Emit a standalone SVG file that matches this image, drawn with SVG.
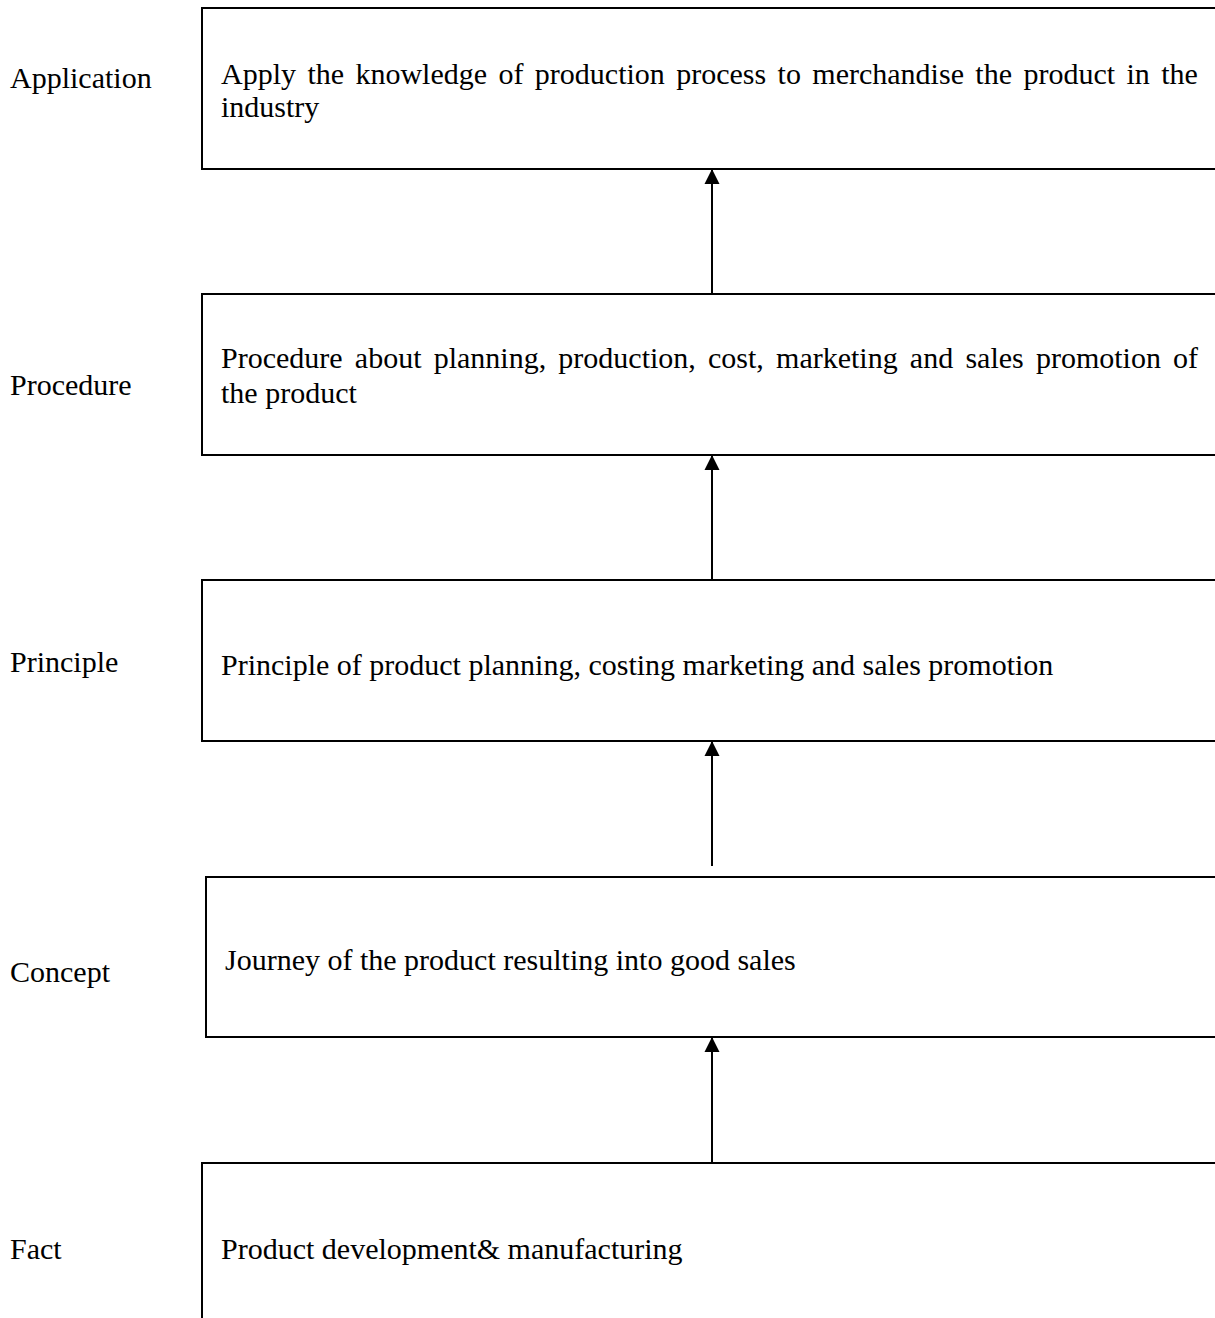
<svg xmlns="http://www.w3.org/2000/svg" width="1215" height="1318" viewBox="0 0 1215 1318">
  <style>
    text { font-family: "Liberation Serif", "Times New Roman", serif; font-size: 30px; fill: #000; }
    .box { fill: #fff; stroke: #000; stroke-width: 2; }
    .link { stroke: #000; stroke-width: 2; fill: none; marker-end: url(#head); }
  </style>
  <defs>
    <marker id="head" markerUnits="userSpaceOnUse" markerWidth="16" markerHeight="16" viewBox="0 0 16 16" refX="15" refY="8" orient="auto">
      <path d="M0,0.5 L15,8 L0,15.5 Z" fill="#000"/>
    </marker>
  </defs>
  <rect width="1215" height="1318" fill="#fff"/>

  <!-- level labels -->
  <g id="labels">
    <text x="10" y="88">Application</text>
    <text x="10" y="395">Procedure</text>
    <text x="10" y="672">Principle</text>
    <text x="10" y="982">Concept</text>
    <text x="10" y="1259">Fact</text>
  </g>

  <!-- levels, bottom to top -->
  <g id="application">
    <rect class="box" x="202" y="8" width="1030" height="161"/>
    <text x="221" y="84" word-spacing="3.9">Apply the knowledge of production process to merchandise the product in the</text>
    <text x="221" y="117">industry</text>
  </g>
  <g id="procedure">
    <rect class="box" x="202" y="294" width="1030" height="161"/>
    <text x="221" y="368" word-spacing="4.7">Procedure about planning, production, cost, marketing and sales promotion of</text>
    <text x="221" y="403">the product</text>
  </g>
  <g id="principle">
    <rect class="box" x="202" y="580" width="1030" height="161"/>
    <text x="221" y="675">Principle of product planning, costing marketing and sales promotion</text>
  </g>
  <g id="concept">
    <rect class="box" x="206" y="877" width="1030" height="160"/>
    <text x="225" y="970">Journey of the product resulting into good sales</text>
  </g>
  <g id="fact">
    <rect class="box" x="202" y="1163" width="1030" height="200"/>
    <text x="221" y="1259">Product development&amp; manufacturing</text>
  </g>

  <!-- upward connectors -->
  <g id="connectors">
    <line class="link" x1="712" y1="294" x2="712" y2="169"/>
    <line class="link" x1="712" y1="580" x2="712" y2="455"/>
    <line class="link" x1="712" y1="866" x2="712" y2="741"/>
    <line class="link" x1="712" y1="1163" x2="712" y2="1037"/>
  </g>
</svg>
